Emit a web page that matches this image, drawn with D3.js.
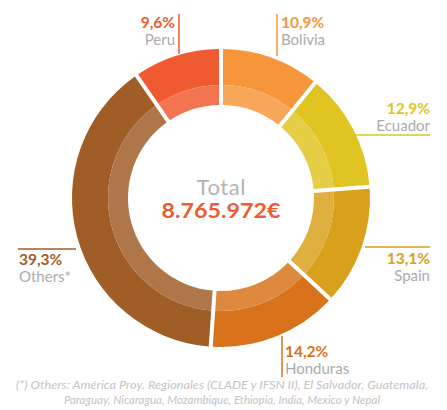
<!DOCTYPE html>
<html>
<head>
<meta charset="utf-8">
<script src="https://cdn.jsdelivr.net/npm/d3@7"></script>
<style>
  body { margin: 0; background: #fff; }
  text { font-family: Lato, "Open Sans", sans-serif; }
</style>
</head>
<body>
<div id="chart"></div>
<script>
// data (clockwise from 12 o'clock)
var countries = ["Bolivia", "Ecuador", "Spain", "Honduras", "Others*", "Peru"];
var shares = [10.9, 12.9, 13.1, 14.2, 39.3, 9.6];
var colours = ["#f7953a", "#e0c522", "#d9a11b", "#d8731c", "#a05d26", "#f05a30"];
var totalLabel = "Total";
var totalValue = "8.765.972€";
var footnote = [
  "(*) Others: América Proy. Regionales (CLADE y IFSN II), El Salvador, Guatemala,",
  "Paraguay, Nicaragua, Mozambique, Ethiopia, India, Mexico y Nepal"
];

var width = 447, height = 410,
  cx = 221, cy = 198,
  rOuter = 149, rMid = 113, rInner = 93;

var svg = d3.select("#chart")
  .append("svg")
  .attr("width", width)
  .attr("height", height);

var fmt = function(v) { return d3.format(".1f")(v).replace(".", ",") + "%"; };

var pie = d3.pie().sort(null).value(function(d) { return d; });
var slices = pie(shares);

var outerArc = d3.arc().innerRadius(rMid).outerRadius(rOuter)
  .padAngle(0.04).padRadius(100);
var innerArc = d3.arc().innerRadius(rInner).outerRadius(rMid)
  .padAngle(0.04).padRadius(100);

var g = svg.append("g").attr("transform", "translate(" + cx + "," + cy + ")");

g.selectAll("path.outer")
  .data(slices)
  .enter().append("path")
  .attr("class", "outer")
  .attr("d", outerArc)
  .attr("fill", function(d, i) { return colours[i]; });

g.selectAll("path.inner")
  .data(slices)
  .enter().append("path")
  .attr("class", "inner")
  .attr("d", innerArc)
  .attr("fill", function(d, i) { return d3.interpolateRgb(colours[i], "#fff")(0.16); });

// centre text
g.append("text")
  .attr("text-anchor", "middle")
  .attr("y", -3)
  .attr("fill", "#b3b3b3")
  .style("font-size", "22px")
  .attr("textLength", 49)
  .text(totalLabel);
g.append("text")
  .attr("text-anchor", "middle")
  .attr("y", 20)
  .attr("fill", "#f05a30")
  .style("font-size", "20px")
  .style("font-weight", "bold")
  .attr("textLength", 119)
  .attr("lengthAdjust", "spacingAndGlyphs")
  .text(totalValue);

// leader lines + labels (layout per slice)
var labelLayout = [
  {line: [[277, 14], [277, 56]], x: 281, y: 28, anchor: "start"},   // Bolivia
  {line: [[345, 135], [430, 135]], x: 430, y: 114, anchor: "end"},  // Ecuador
  {line: [[365, 247], [430, 247]], x: 430, y: 264, anchor: "end"},  // Spain
  {line: [[282, 336], [282, 377]], x: 285, y: 357, anchor: "start"},// Honduras
  {line: [[18, 249], [76, 249]], x: 19, y: 265, anchor: "start"},   // Others
  {line: [[179, 14], [179, 54]], x: 175, y: 28, anchor: "end"}      // Peru
];

var labels = svg.selectAll("g.lbl")
  .data(slices)
  .enter().append("g")
  .attr("class", "lbl");

labels.append("path")
  .attr("d", function(d, i) { return d3.line()(labelLayout[i].line); })
  .attr("stroke", function(d, i) { return colours[i]; })
  .attr("stroke-width", 1.5)
  .attr("fill", "none");

labels.append("text")
  .attr("x", function(d, i) { return labelLayout[i].x; })
  .attr("y", function(d, i) { return labelLayout[i].y; })
  .attr("text-anchor", function(d, i) { return labelLayout[i].anchor; })
  .attr("fill", function(d, i) { return colours[i]; })
  .style("font-size", "15.5px")
  .style("font-weight", "bold")
  .text(function(d) { return fmt(d.data); });

labels.append("text")
  .attr("x", function(d, i) { return labelLayout[i].x; })
  .attr("y", function(d, i) { return labelLayout[i].y + 17; })
  .attr("text-anchor", function(d, i) { return labelLayout[i].anchor; })
  .attr("fill", "#ababab")
  .style("font-size", "15px")
  .text(function(d, i) { return countries[i]; });

// footnote
var noteWidths = [412, 316];
svg.selectAll("text.note")
  .data(footnote)
  .enter().append("text")
  .attr("class", "note")
  .attr("x", function(d, i) { return 222 - noteWidths[i] / 2; })
  .attr("y", function(d, i) { return 389 + i * 15; })
  .attr("textLength", function(d, i) { return noteWidths[i]; })
  .attr("lengthAdjust", "spacingAndGlyphs")
  .attr("fill", "#c4c4c4")
  .style("font-size", "11px")
  .style("font-style", "italic")
  .text(function(d) { return d; });
</script>
</body>
</html>
